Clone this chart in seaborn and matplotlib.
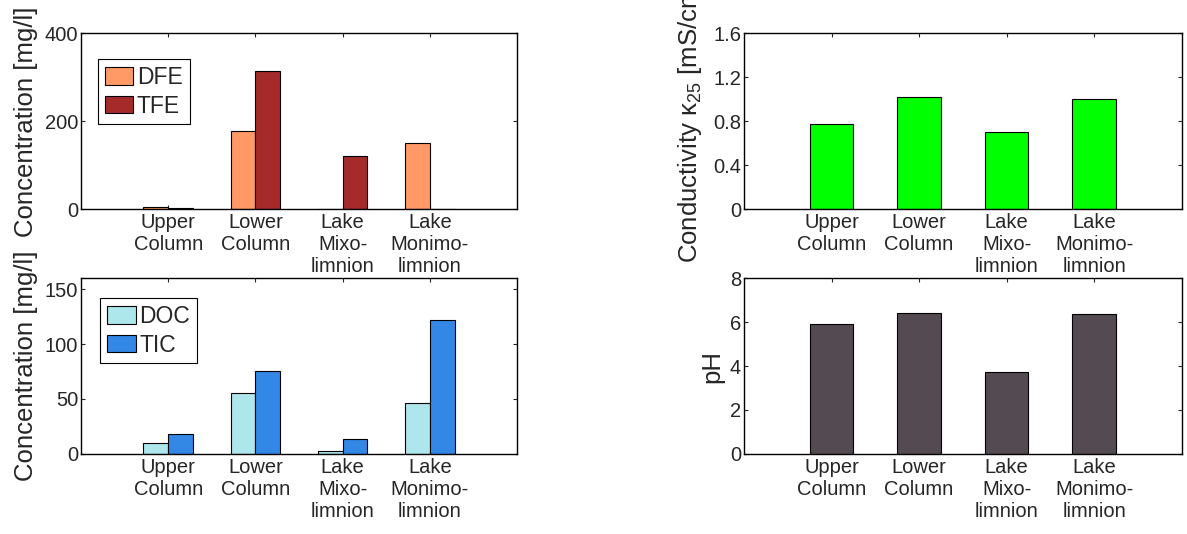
import matplotlib
matplotlib.use("Agg")
import matplotlib.pyplot as plt
import seaborn as sns
import pandas as pd

# categories (x tick labels)
sites = ["Upper\nColumn", "Lower\nColumn", "Lake\nMixo-\nlimnion", "Lake\nMonimo-\nlimnion"]

# iron concentrations [mg/l]
dfe = [6, 178, 1, 150]
tfe = [2, 315, 121, 0]

# carbon concentrations [mg/l]
doc = [9.5, 55, 2, 46.5]
tic = [17.7, 75.3, 13.4, 122.4]

# conductivity [mS/cm] and pH
cond = [0.775, 1.024, 0.703, 1.003]
ph = [5.93, 6.43, 3.74, 6.36]

sns.set_style("ticks")
plt.rcParams['font.family'] = ['Liberation Sans', 'DejaVu Sans']
plt.rcParams['mathtext.fontset'] = 'custom'
plt.rcParams['mathtext.rm'] = 'Liberation Sans'
plt.rcParams['mathtext.it'] = 'Liberation Sans'

fig = plt.figure(figsize=(11.87, 5.34), dpi=100)
ax_tl = fig.add_axes([0.0682, 0.608, 0.3674, 0.3296])
ax_bl = fig.add_axes([0.0682, 0.1504, 0.3674, 0.3284])
ax_tr = fig.add_axes([0.6268, 0.608, 0.3687, 0.3296])
ax_br = fig.add_axes([0.6268, 0.1504, 0.3687, 0.3284])


def grouped(ax, a, b, names, colors, anchor):
    df = pd.DataFrame({
        "site": sites * 2,
        "value": a + b,
        "kind": [names[0]] * 4 + [names[1]] * 4,
    })
    sns.barplot(data=df, x="site", y="value", hue="kind", order=sites,
                palette=colors, saturation=1, width=0.57,
                edgecolor="black", linewidth=0.8, ax=ax)
    leg = ax.legend(loc="upper left", bbox_to_anchor=anchor,
                    fontsize=16.5, frameon=True, fancybox=False,
                    edgecolor="black", framealpha=1, handlelength=1.25,
                    handleheight=0.8, handletextpad=0.15, borderpad=0.3,
                    labelspacing=0.25, borderaxespad=0)
    leg.get_frame().set_linewidth(0.8)


def single(ax, vals, color):
    sns.barplot(x=sites, y=vals, color=color, saturation=1, width=0.5,
                edgecolor="black", linewidth=0.8, ax=ax)


grouped(ax_tl, dfe, tfe, ["DFE", "TFE"], ["#FF9966", "#A52A2A"], (0.039, 0.854))
grouped(ax_bl, doc, tic, ["DOC", "TIC"], ["#ADE6EB", "#3388E6"], (0.044, 0.888))
single(ax_tr, cond, "#00FF00")
single(ax_br, ph, "#544B52")

ax_tl.set_ylim(0, 400)
ax_tl.set_yticks([0, 200, 400])
ax_bl.set_ylim(0, 160)
ax_bl.set_yticks([0, 50, 100, 150])
ax_tr.set_ylim(0, 1.6)
ax_tr.set_yticks([0, 0.4, 0.8, 1.2, 1.6])
ax_tr.set_yticklabels(["0", "0.4", "0.8", "1.2", "1.6"])
ax_br.set_ylim(0, 8)
ax_br.set_yticks([0, 2, 4, 6, 8])

ax_tl.set_ylabel("Concentration [mg/l]", fontsize=18.5, labelpad=5)
ax_bl.set_ylabel("Concentration [mg/l]", fontsize=18.5, labelpad=5)
ax_tr.set_ylabel("Conductivity κ$_{25}$ [mS/cm]", fontsize=18.5, labelpad=7)
ax_br.set_ylabel("pH", fontsize=18.5, labelpad=4)

for ax in [ax_tl, ax_bl, ax_tr, ax_br]:
    ax.set_xlim(-1, 4)
    ax.set_xlabel("")
    ax.tick_params(direction="in", length=3, width=0.8, top=True, right=True,
                   labelsize=14.5, pad=3)
    ax.tick_params(axis="y", pad=2)
    for s in ax.spines.values():
        s.set_visible(True)
        s.set_linewidth(1)
        s.set_color("black")

fig.savefig("out.png", dpi=100)
